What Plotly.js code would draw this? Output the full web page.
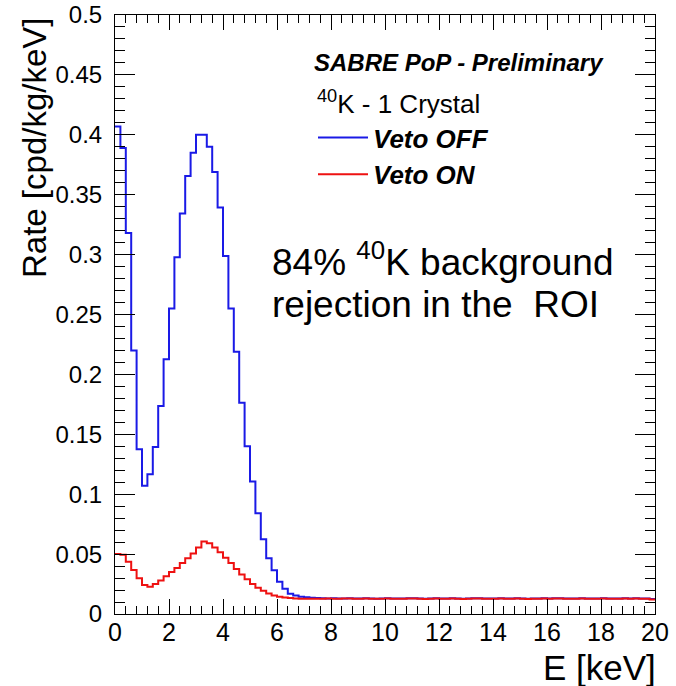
<!DOCTYPE html>
<html>
<head>
<meta charset="utf-8">
<script src="https://cdn.plot.ly/plotly-3.0.1.min.js"></script>
<style>
html,body{margin:0;padding:0;background:#fff;}
#chart{width:676px;height:686px;}
</style>
</head>
<body>
<div id="chart"></div>
<script>
// Histogram binning (keV)
const binStart = 0;
const binWidth = 0.2;
const nBins = 100;

// Rate [cpd/kg/keV] per 0.2 keV bin, Veto OFF
const vetoOff = [
  0.407, 0.389, 0.318, 0.220, 0.1375, 0.107, 0.1166, 0.1394, 0.1736, 0.2126,
  0.255, 0.2977, 0.3344, 0.3656, 0.385, 0.400, 0.400, 0.390, 0.369, 0.3394,
  0.2988, 0.255, 0.219, 0.1764, 0.140, 0.1105, 0.084, 0.0625, 0.0465, 0.0365,
  0.027, 0.021, 0.017, 0.0155, 0.0145, 0.0140, 0.0135, 0.0133, 0.0131, 0.0130,
  0.0131, 0.0129, 0.0130, 0.0132, 0.0130, 0.0129, 0.0131, 0.0130, 0.0128, 0.0130,
  0.0131, 0.0130, 0.0129, 0.0130, 0.0132, 0.0131, 0.0129, 0.0128, 0.0130, 0.0131,
  0.0130, 0.0129, 0.0131, 0.0130, 0.0128, 0.0130, 0.0131, 0.0132, 0.0130, 0.0129,
  0.0130, 0.0131, 0.0129, 0.0130, 0.0131, 0.0130, 0.0128, 0.0129, 0.0130, 0.0131,
  0.0130, 0.0132, 0.0131, 0.0130, 0.0129, 0.0130, 0.0131, 0.0130, 0.0129, 0.0130,
  0.0131, 0.0130, 0.0129, 0.0130, 0.0131, 0.0130, 0.0131, 0.0130, 0.0129, 0.0125
];

// Rate [cpd/kg/keV] per 0.2 keV bin, Veto ON
const vetoOn = [
  0.050, 0.0495, 0.0437, 0.0367, 0.0298, 0.0242, 0.0228, 0.025, 0.028, 0.0315,
  0.035, 0.0385, 0.0425, 0.0465, 0.0505, 0.0555, 0.0605, 0.059, 0.0555, 0.0515,
  0.047, 0.0425, 0.0375, 0.033, 0.029, 0.025, 0.022, 0.0195, 0.0172, 0.0155,
  0.0143, 0.0137, 0.0133, 0.0130, 0.0128, 0.0127, 0.0128, 0.0127, 0.0128, 0.0129,
  0.0128, 0.0127, 0.0129, 0.0130, 0.0128, 0.0127, 0.0129, 0.0128, 0.0127, 0.0128,
  0.0129, 0.0128, 0.0127, 0.0128, 0.0130, 0.0129, 0.0127, 0.0126, 0.0128, 0.0129,
  0.0128, 0.0127, 0.0129, 0.0128, 0.0126, 0.0128, 0.0129, 0.0130, 0.0128, 0.0127,
  0.0128, 0.0129, 0.0127, 0.0128, 0.0129, 0.0128, 0.0126, 0.0127, 0.0128, 0.0129,
  0.0128, 0.0130, 0.0129, 0.0128, 0.0127, 0.0128, 0.0129, 0.0128, 0.0127, 0.0128,
  0.0129, 0.0128, 0.0127, 0.0128, 0.0129, 0.0128, 0.0129, 0.0128, 0.0127, 0.0120
];

const seriesNames = ["Veto OFF", "Veto ON"];
const seriesColors = ["#1a1ae6", "#ee1111"];
const legendHeader = "<sup>40</sup>K - 1 Crystal";
const headerText = "SABRE PoP - Preliminary";
const noteLine1 = "84% <sup>40</sup>K background";
const noteLine2 = "rejection in the\u00a0 ROI";
const xTitle = "E [keV]";
const yTitle = "Rate [cpd/kg/keV]";

const edges = [];
for (let i = 0; i <= nBins; i++) edges.push(+(binStart + i * binWidth).toFixed(4));

function stepY(v) { return v.concat([v[v.length - 1]]); }

const FONT = "Liberation Sans, Arial, Helvetica, sans-serif";

const traces = [
  { x: edges, y: stepY(vetoOff), type: "scatter", mode: "lines", name: seriesNames[0],
    line: { shape: "hv", color: seriesColors[0], width: 2 }, hoverinfo: "skip" },
  { x: edges, y: stepY(vetoOn), type: "scatter", mode: "lines", name: seriesNames[1],
    line: { shape: "hv", color: seriesColors[1], width: 2 }, hoverinfo: "skip" }
];

const W = 676, H = 686, L = 115, R = 21, T = 15, B = 72;
const pw = W - L - R, ph = H - T - B;
function px2x(p) { return (p - L) / pw; }
function py2y(p) { return 1 - (p - T) / ph; }

const layout = {
  width: W, height: H,
  margin: { l: L, r: R, t: T, b: B, pad: 0 },
  paper_bgcolor: "#fff", plot_bgcolor: "#fff",
  font: { family: FONT, color: "#000" },
  showlegend: true,
  legend: {
    x: px2x(313), xanchor: "left", y: py2y(114), yanchor: "top",
    bgcolor: "rgba(0,0,0,0)", borderwidth: 0,
    itemwidth: 50,
    font: { family: FONT, size: 26, weight: "bold", style: "italic", color: "#000" },
    itemclick: false, itemdoubleclick: false
  },
  xaxis: {
    range: [0, 20], dtick: 2, tick0: 0,
    showgrid: false, zeroline: false,
    showline: true, linecolor: "#000", linewidth: 1, mirror: "allticks",
    ticks: "inside", ticklen: 15, tickcolor: "#000", tickwidth: 1,
    minor: { dtick: 0.4, ticks: "inside", ticklen: 8, tickcolor: "#000", tickwidth: 1, showgrid: false },
    tickfont: { family: FONT, size: 25, color: "#000" },
    ticklabelstandoff: -4
  },
  yaxis: {
    range: [0, 0.5], dtick: 0.05, tick0: 0,
    showgrid: false, zeroline: false,
    showline: true, linecolor: "#000", linewidth: 1, mirror: "allticks",
    ticks: "inside", ticklen: 20, tickcolor: "#000", tickwidth: 1,
    minor: { dtick: 0.01, ticks: "inside", ticklen: 10, tickcolor: "#000", tickwidth: 1, showgrid: false },
    tickfont: { family: FONT, size: 24, color: "#000" },
    ticklabelstandoff: 7
  },
  annotations: [
    { text: "<b><i>" + headerText + "</i></b>", xref: "paper", yref: "paper",
      x: px2x(312), xanchor: "left", y: py2y(62), yanchor: "middle", showarrow: false,
      font: { family: FONT, size: 24, color: "#000" } },
    { text: legendHeader, xref: "paper", yref: "paper",
      x: px2x(315), xanchor: "left", y: py2y(103), yanchor: "middle", showarrow: false,
      font: { family: FONT, size: 26, color: "#000" } },
    { text: noteLine1, xref: "paper", yref: "paper",
      x: px2x(270), xanchor: "left", y: py2y(260), yanchor: "middle", showarrow: false,
      font: { family: FONT, size: 37, color: "#000" } },
    { text: noteLine2, xref: "paper", yref: "paper",
      x: px2x(270), xanchor: "left", y: py2y(304), yanchor: "middle", showarrow: false,
      font: { family: FONT, size: 37, color: "#000" } },
    { text: yTitle, xref: "paper", yref: "paper", textangle: -90,
      x: px2x(34), xanchor: "center", y: py2y(16), yanchor: "top", showarrow: false,
      font: { family: FONT, size: 33, color: "#000" } },
    { text: xTitle, xref: "paper", yref: "paper",
      x: px2x(658), xanchor: "right", y: py2y(667), yanchor: "middle", showarrow: false,
      font: { family: FONT, size: 35, color: "#000" } }
  ]
};

Plotly.newPlot("chart", traces, layout, { staticPlot: true, displayModeBar: false });
</script>
</body>
</html>
